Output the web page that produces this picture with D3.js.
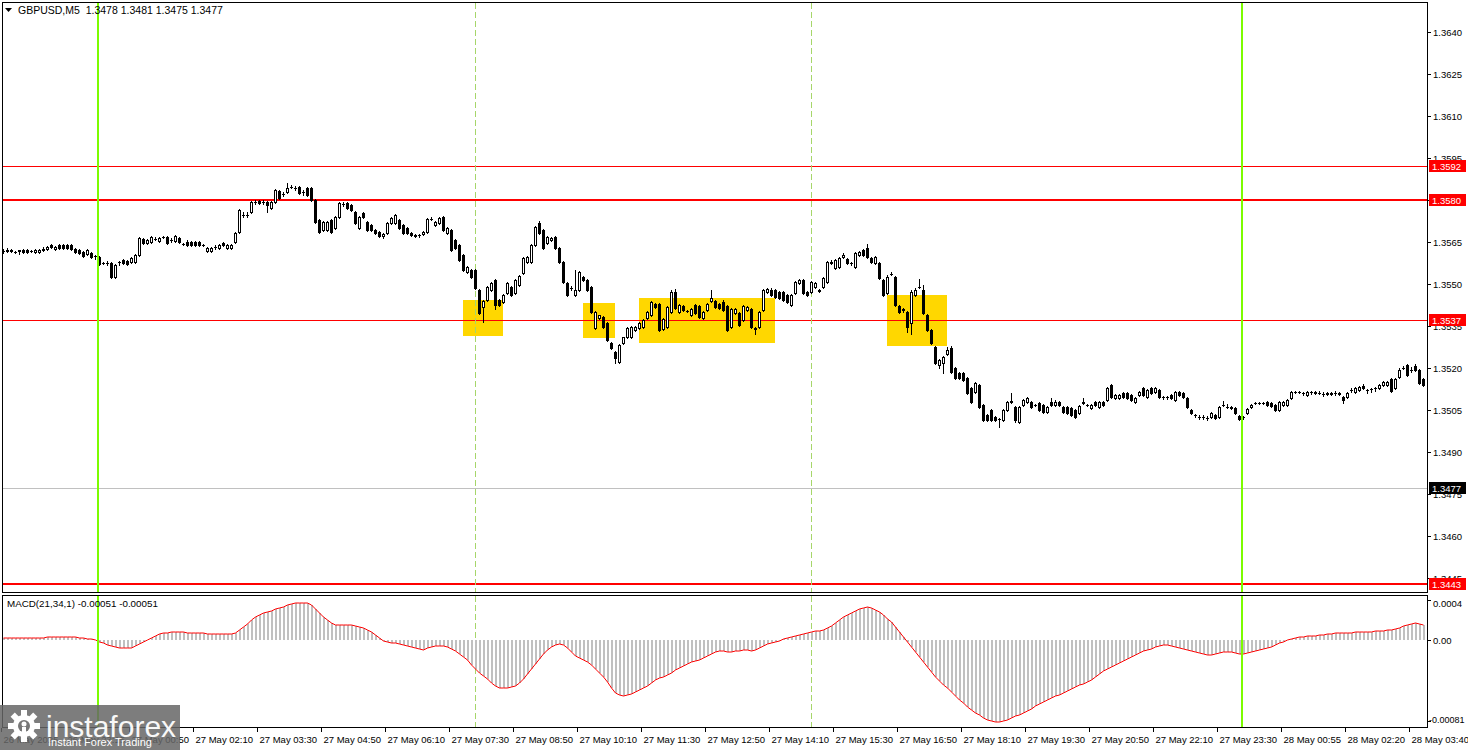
<!DOCTYPE html>
<html><head><meta charset="utf-8">
<script src="https://cdn.jsdelivr.net/npm/d3@7"></script>
<style>
html,body{margin:0;padding:0;background:#fff;}
svg{display:block;font-family:"Liberation Sans",Arial,sans-serif;}
</style></head><body>
<svg id="c" width="1468" height="750"></svg>
<script>
const chartTitle = "GBPUSD,M5  1.3478 1.3481 1.3475 1.3477";
const macdTitle = "MACD(21,34,1) -0.00051 -0.00051";

const open = [
1.35618,1.35618,1.35621,1.35614,1.35618,1.35621,1.35621,1.35618,1.35614,1.35614,
1.35621,1.35625,1.35639,1.35625,1.35639,1.35639,1.35639,1.35639,1.35625,1.35621,
1.35614,1.35607,1.35611,1.35600,1.35596,1.35575,1.35575,1.35575,1.35525,1.35579,
1.35586,1.35582,1.35579,1.35579,1.35604,1.35661,1.35646,1.35650,1.35661,1.35654,
1.35668,1.35668,1.35657,1.35654,1.35664,1.35643,1.35650,1.35650,1.35650,1.35650,
1.35639,1.35618,1.35618,1.35632,1.35629,1.35646,1.35629,1.35629,1.35650,1.35686,
1.35746,1.35746,1.35757,1.35793,1.35796,1.35793,1.35793,1.35771,1.35793,1.35832,
1.35821,1.35829,1.35846,1.35843,1.35846,1.35829,1.35843,1.35843,1.35800,1.35729,
1.35693,1.35693,1.35729,1.35700,1.35739,1.35786,1.35789,1.35782,1.35757,1.35700,
1.35754,1.35721,1.35711,1.35693,1.35686,1.35671,1.35682,1.35718,1.35718,1.35729,
1.35711,1.35700,1.35682,1.35675,1.35675,1.35679,1.35686,1.35732,1.35711,1.35718,
1.35739,1.35682,1.35693,1.35657,1.35639,1.35604,1.35543,1.35550,1.35550,1.35479,
1.35418,1.35443,1.35479,1.35514,1.35443,1.35436,1.35468,1.35489,1.35468,1.35496,
1.35539,1.35579,1.35579,1.35639,1.35718,1.35693,1.35646,1.35657,1.35668,1.35629,
1.35579,1.35504,1.35486,1.35461,1.35479,1.35525,1.35514,1.35489,1.35343,1.35379,
1.35382,1.35361,1.35289,1.35257,1.35221,1.35289,1.35311,1.35311,1.35336,1.35343,
1.35346,1.35379,1.35389,1.35429,1.35429,1.35339,1.35346,1.35400,1.35471,1.35400,
1.35421,1.35404,1.35389,1.35425,1.35421,1.35379,1.35407,1.35439,1.35439,1.35429,
1.35436,1.35421,1.35346,1.35396,1.35396,1.35371,1.35407,1.35411,1.35343,1.35346,
1.35407,1.35471,1.35479,1.35479,1.35471,1.35471,1.35461,1.35425,1.35468,1.35504,
1.35514,1.35471,1.35471,1.35489,1.35479,1.35489,1.35507,1.35575,1.35557,1.35561,
1.35596,1.35589,1.35575,1.35561,1.35604,1.35621,1.35629,1.35593,1.35575,1.35575,
1.35514,1.35468,1.35536,1.35525,1.35421,1.35411,1.35400,1.35361,1.35461,1.35489,
1.35479,1.35389,1.35336,1.35275,1.35211,1.35218,1.35250,1.35271,1.35200,1.35182,
1.35182,1.35164,1.35129,1.35114,1.35139,1.35068,1.35032,1.35050,1.35025,1.35018,
1.35014,1.35050,1.35079,1.35061,1.35007,1.35068,1.35079,1.35079,1.35068,1.35075,
1.35068,1.35043,1.35079,1.35068,1.35079,1.35061,1.35061,1.35057,1.35050,1.35039,
1.35075,1.35068,1.35057,1.35079,1.35061,1.35079,1.35086,1.35139,1.35093,1.35093,
1.35111,1.35111,1.35104,1.35079,1.35104,1.35129,1.35096,1.35129,1.35114,1.35121,
1.35096,1.35096,1.35104,1.35086,1.35114,1.35111,1.35093,1.35050,1.35032,1.35025,
1.35025,1.35021,1.35025,1.35032,1.35025,1.35068,1.35061,1.35061,1.35057,1.35029,
1.35025,1.35039,1.35061,1.35075,1.35075,1.35075,1.35079,1.35075,1.35068,1.35050,
1.35068,1.35068,1.35093,1.35114,1.35114,1.35111,1.35104,1.35114,1.35114,1.35111,
1.35107,1.35111,1.35107,1.35111,1.35111,1.35096,1.35096,1.35121,1.35114,1.35121,
1.35136,1.35121,1.35125,1.35129,1.35129,1.35139,1.35139,1.35161,1.35129,1.35168,
1.35200,1.35211,1.35193,1.35207,1.35193,1.35161];

const high = [
1.35625,1.35629,1.35625,1.35618,1.35621,1.35625,1.35625,1.35621,1.35625,1.35625,
1.35632,1.35636,1.35643,1.35636,1.35643,1.35643,1.35643,1.35643,1.35629,1.35625,
1.35618,1.35625,1.35614,1.35604,1.35600,1.35579,1.35582,1.35579,1.35571,1.35582,
1.35589,1.35586,1.35596,1.35607,1.35668,1.35664,1.35661,1.35671,1.35668,1.35668,
1.35671,1.35671,1.35664,1.35675,1.35668,1.35646,1.35657,1.35654,1.35654,1.35654,
1.35643,1.35632,1.35632,1.35639,1.35643,1.35650,1.35643,1.35643,1.35686,1.35768,
1.35757,1.35757,1.35796,1.35800,1.35800,1.35800,1.35796,1.35796,1.35839,1.35836,
1.35829,1.35861,1.35854,1.35850,1.35850,1.35836,1.35846,1.35846,1.35804,1.35732,
1.35725,1.35725,1.35732,1.35743,1.35793,1.35793,1.35793,1.35786,1.35761,1.35743,
1.35757,1.35725,1.35714,1.35696,1.35689,1.35682,1.35721,1.35739,1.35750,1.35732,
1.35714,1.35704,1.35686,1.35679,1.35679,1.35689,1.35736,1.35739,1.35725,1.35739,
1.35743,1.35704,1.35696,1.35661,1.35643,1.35607,1.35564,1.35554,1.35554,1.35482,
1.35443,1.35493,1.35507,1.35518,1.35446,1.35464,1.35507,1.35493,1.35518,1.35532,
1.35596,1.35600,1.35643,1.35707,1.35725,1.35696,1.35671,1.35668,1.35671,1.35632,
1.35582,1.35507,1.35493,1.35550,1.35546,1.35529,1.35518,1.35493,1.35404,1.35389,
1.35386,1.35364,1.35293,1.35261,1.35286,1.35311,1.35346,1.35350,1.35350,1.35364,
1.35375,1.35404,1.35439,1.35432,1.35432,1.35379,1.35421,1.35479,1.35482,1.35429,
1.35425,1.35407,1.35414,1.35429,1.35425,1.35404,1.35432,1.35479,1.35443,1.35432,
1.35443,1.35425,1.35414,1.35414,1.35400,1.35425,1.35421,1.35414,1.35346,1.35404,
1.35482,1.35486,1.35486,1.35482,1.35475,1.35475,1.35464,1.35464,1.35511,1.35518,
1.35518,1.35475,1.35511,1.35507,1.35482,1.35525,1.35582,1.35586,1.35589,1.35596,
1.35611,1.35593,1.35579,1.35614,1.35618,1.35625,1.35643,1.35596,1.35600,1.35579,
1.35518,1.35532,1.35543,1.35529,1.35425,1.35414,1.35404,1.35479,1.35486,1.35518,
1.35496,1.35393,1.35339,1.35279,1.35232,1.35243,1.35275,1.35279,1.35204,1.35186,
1.35186,1.35168,1.35132,1.35150,1.35143,1.35071,1.35036,1.35054,1.35029,1.35021,
1.35054,1.35082,1.35111,1.35064,1.35064,1.35089,1.35096,1.35082,1.35071,1.35079,
1.35071,1.35064,1.35093,1.35086,1.35082,1.35064,1.35064,1.35061,1.35054,1.35068,
1.35093,1.35071,1.35071,1.35082,1.35082,1.35082,1.35132,1.35143,1.35107,1.35107,
1.35114,1.35114,1.35107,1.35096,1.35118,1.35132,1.35125,1.35132,1.35132,1.35125,
1.35100,1.35100,1.35107,1.35118,1.35118,1.35114,1.35096,1.35054,1.35036,1.35032,
1.35032,1.35029,1.35043,1.35036,1.35064,1.35082,1.35071,1.35064,1.35061,1.35032,
1.35029,1.35057,1.35071,1.35079,1.35079,1.35079,1.35082,1.35079,1.35071,1.35082,
1.35082,1.35089,1.35118,1.35118,1.35118,1.35114,1.35118,1.35118,1.35118,1.35118,
1.35114,1.35114,1.35114,1.35118,1.35114,1.35100,1.35114,1.35129,1.35132,1.35136,
1.35143,1.35125,1.35129,1.35132,1.35143,1.35154,1.35154,1.35164,1.35164,1.35200,
1.35207,1.35214,1.35204,1.35214,1.35196,1.35164];

const low = [
1.35611,1.35614,1.35614,1.35611,1.35607,1.35611,1.35611,1.35614,1.35611,1.35611,
1.35618,1.35621,1.35629,1.35621,1.35625,1.35625,1.35625,1.35621,1.35611,1.35607,
1.35596,1.35604,1.35593,1.35589,1.35568,1.35571,1.35568,1.35521,1.35521,1.35568,
1.35571,1.35568,1.35575,1.35575,1.35600,1.35643,1.35643,1.35646,1.35657,1.35650,
1.35664,1.35643,1.35650,1.35650,1.35646,1.35639,1.35636,1.35636,1.35636,1.35636,
1.35636,1.35614,1.35614,1.35625,1.35625,1.35636,1.35625,1.35625,1.35646,1.35682,
1.35739,1.35739,1.35754,1.35786,1.35786,1.35786,1.35757,1.35768,1.35789,1.35804,
1.35814,1.35825,1.35843,1.35836,1.35821,1.35818,1.35814,1.35796,1.35718,1.35682,
1.35689,1.35689,1.35682,1.35696,1.35736,1.35779,1.35768,1.35761,1.35714,1.35696,
1.35736,1.35689,1.35689,1.35679,1.35668,1.35664,1.35679,1.35714,1.35714,1.35696,
1.35679,1.35679,1.35671,1.35668,1.35668,1.35675,1.35682,1.35729,1.35707,1.35714,
1.35689,1.35679,1.35618,1.35625,1.35582,1.35546,1.35539,1.35521,1.35482,1.35393,
1.35364,1.35439,1.35475,1.35411,1.35421,1.35432,1.35464,1.35457,1.35464,1.35493,
1.35536,1.35575,1.35575,1.35636,1.35679,1.35625,1.35643,1.35654,1.35625,1.35575,
1.35504,1.35457,1.35479,1.35457,1.35475,1.35511,1.35475,1.35396,1.35339,1.35375,
1.35343,1.35296,1.35268,1.35218,1.35218,1.35286,1.35307,1.35307,1.35332,1.35339,
1.35343,1.35375,1.35386,1.35414,1.35332,1.35336,1.35343,1.35396,1.35411,1.35396,
1.35404,1.35400,1.35386,1.35393,1.35379,1.35375,1.35404,1.35436,1.35414,1.35411,
1.35404,1.35332,1.35343,1.35393,1.35350,1.35368,1.35404,1.35343,1.35321,1.35343,
1.35404,1.35468,1.35457,1.35450,1.35446,1.35439,1.35432,1.35421,1.35464,1.35500,
1.35464,1.35457,1.35468,1.35486,1.35471,1.35486,1.35504,1.35571,1.35554,1.35557,
1.35593,1.35571,1.35568,1.35557,1.35600,1.35600,1.35593,1.35575,1.35571,1.35518,
1.35457,1.35464,1.35532,1.35421,1.35396,1.35400,1.35329,1.35321,1.35457,1.35486,
1.35393,1.35332,1.35286,1.35214,1.35200,1.35182,1.35246,1.35182,1.35161,1.35161,
1.35154,1.35107,1.35075,1.35111,1.35057,1.35011,1.35011,1.35011,1.35011,1.34989,
1.35011,1.35046,1.35075,1.35007,1.35004,1.35064,1.35075,1.35057,1.35064,1.35046,
1.35039,1.35039,1.35064,1.35064,1.35064,1.35039,1.35036,1.35029,1.35021,1.35036,
1.35071,1.35064,1.35054,1.35064,1.35057,1.35064,1.35082,1.35093,1.35089,1.35089,
1.35093,1.35089,1.35082,1.35075,1.35100,1.35100,1.35093,1.35107,1.35111,1.35093,
1.35089,1.35089,1.35089,1.35082,1.35100,1.35093,1.35057,1.35036,1.35025,1.35018,
1.35018,1.35014,1.35021,1.35018,1.35021,1.35064,1.35057,1.35054,1.35036,1.35014,
1.35018,1.35036,1.35057,1.35071,1.35071,1.35071,1.35064,1.35061,1.35046,1.35046,
1.35064,1.35064,1.35089,1.35111,1.35111,1.35104,1.35100,1.35107,1.35107,1.35107,
1.35100,1.35104,1.35104,1.35104,1.35104,1.35075,1.35093,1.35114,1.35111,1.35118,
1.35125,1.35111,1.35114,1.35118,1.35125,1.35136,1.35136,1.35114,1.35125,1.35164,
1.35196,1.35171,1.35186,1.35189,1.35143,1.35136];

const close = [
1.35618,1.35621,1.35618,1.35614,1.35621,1.35614,1.35614,1.35618,1.35621,1.35621,
1.35625,1.35632,1.35632,1.35632,1.35629,1.35629,1.35629,1.35625,1.35614,1.35611,
1.35600,1.35621,1.35596,1.35600,1.35571,1.35575,1.35575,1.35525,1.35568,1.35579,
1.35575,1.35571,1.35593,1.35604,1.35664,1.35646,1.35657,1.35668,1.35661,1.35664,
1.35668,1.35646,1.35657,1.35671,1.35650,1.35643,1.35639,1.35639,1.35639,1.35639,
1.35639,1.35629,1.35629,1.35632,1.35639,1.35639,1.35639,1.35639,1.35682,1.35764,
1.35746,1.35746,1.35793,1.35793,1.35789,1.35793,1.35782,1.35793,1.35836,1.35807,
1.35821,1.35843,1.35846,1.35843,1.35825,1.35829,1.35818,1.35800,1.35721,1.35686,
1.35721,1.35721,1.35686,1.35739,1.35789,1.35786,1.35771,1.35764,1.35718,1.35739,
1.35739,1.35693,1.35693,1.35682,1.35671,1.35679,1.35718,1.35736,1.35746,1.35700,
1.35682,1.35682,1.35675,1.35671,1.35675,1.35686,1.35732,1.35732,1.35721,1.35736,
1.35693,1.35700,1.35621,1.35629,1.35586,1.35550,1.35561,1.35525,1.35486,1.35396,
1.35439,1.35489,1.35504,1.35425,1.35425,1.35461,1.35504,1.35461,1.35514,1.35529,
1.35593,1.35596,1.35639,1.35704,1.35682,1.35629,1.35668,1.35664,1.35629,1.35579,
1.35507,1.35461,1.35486,1.35479,1.35543,1.35514,1.35479,1.35400,1.35400,1.35389,
1.35346,1.35300,1.35271,1.35236,1.35282,1.35311,1.35343,1.35346,1.35346,1.35361,
1.35371,1.35400,1.35436,1.35418,1.35336,1.35375,1.35418,1.35471,1.35414,1.35425,
1.35407,1.35404,1.35411,1.35396,1.35382,1.35400,1.35429,1.35450,1.35418,1.35414,
1.35407,1.35336,1.35411,1.35411,1.35354,1.35421,1.35418,1.35346,1.35339,1.35400,
1.35479,1.35482,1.35461,1.35454,1.35450,1.35443,1.35436,1.35461,1.35507,1.35514,
1.35468,1.35461,1.35507,1.35504,1.35475,1.35521,1.35579,1.35579,1.35586,1.35593,
1.35604,1.35575,1.35575,1.35611,1.35614,1.35604,1.35596,1.35579,1.35596,1.35521,
1.35461,1.35525,1.35536,1.35425,1.35400,1.35407,1.35346,1.35471,1.35479,1.35489,
1.35396,1.35336,1.35289,1.35218,1.35229,1.35239,1.35264,1.35186,1.35164,1.35164,
1.35157,1.35111,1.35079,1.35146,1.35061,1.35014,1.35014,1.35014,1.35014,1.35018,
1.35050,1.35079,1.35082,1.35014,1.35061,1.35086,1.35093,1.35061,1.35068,1.35050,
1.35043,1.35061,1.35068,1.35079,1.35068,1.35043,1.35039,1.35032,1.35025,1.35064,
1.35079,1.35068,1.35068,1.35068,1.35079,1.35068,1.35129,1.35096,1.35104,1.35104,
1.35096,1.35093,1.35086,1.35093,1.35114,1.35104,1.35121,1.35111,1.35129,1.35096,
1.35096,1.35096,1.35093,1.35114,1.35104,1.35096,1.35061,1.35039,1.35032,1.35025,
1.35025,1.35021,1.35039,1.35021,1.35061,1.35068,1.35061,1.35057,1.35039,1.35018,
1.35025,1.35054,1.35068,1.35075,1.35075,1.35075,1.35068,1.35064,1.35050,1.35079,
1.35079,1.35086,1.35114,1.35114,1.35114,1.35111,1.35114,1.35114,1.35111,1.35111,
1.35107,1.35107,1.35111,1.35111,1.35107,1.35086,1.35111,1.35121,1.35129,1.35132,
1.35129,1.35121,1.35125,1.35129,1.35139,1.35150,1.35150,1.35118,1.35161,1.35193,
1.35200,1.35175,1.35193,1.35193,1.35146,1.35139];

const macd = [
0.00002,0.00002,0.00002,0.00002,0.00002,0.00002,0.00002,0.00002,0.00002,0.00002,
0.00002,0.00003,0.00003,0.00003,0.00003,0.00003,0.00003,0.00003,0.00003,0.00002,
0.00002,0.00001,0.00001,0,-0.00002,-0.00003,-0.00005,-0.00006,-0.00007,-0.00008,
-0.00008,-0.00008,-0.00008,-0.00006,-0.00004,-0.00002,0,0.00002,0.00004,0.00006,
0.00007,0.00007,0.00008,0.00008,0.00008,0.00008,0.00007,0.00007,0.00007,0.00007,
0.00007,0.00006,0.00006,0.00006,0.00006,0.00006,0.00006,0.00006,0.00007,0.00010,
0.00013,0.00016,0.00020,0.00023,0.00025,0.00027,0.00028,0.00029,0.00031,0.00032,
0.00033,0.00035,0.00036,0.00037,0.00037,0.00037,0.00037,0.00035,0.00031,0.00027,
0.00023,0.00020,0.00017,0.00015,0.00015,0.00015,0.00015,0.00015,0.00014,0.00013,
0.00012,0.00010,0.00008,0.00005,0.00002,-0.00001,-0.00002,-0.00003,-0.00003,-0.00004,
-0.00005,-0.00006,-0.00007,-0.00008,-0.00009,-0.00010,-0.00008,-0.00007,-0.00006,-0.00006,
-0.00006,-0.00007,-0.00009,-0.00011,-0.00014,-0.00017,-0.00020,-0.00025,-0.00029,-0.00033,
-0.00036,-0.00039,-0.00043,-0.00046,-0.00048,-0.00048,-0.00048,-0.00047,-0.00046,-0.00043,
-0.00039,-0.00034,-0.00029,-0.00024,-0.00019,-0.00014,-0.00010,-0.00007,-0.00005,-0.00004,
-0.00005,-0.00008,-0.00012,-0.00016,-0.00018,-0.00020,-0.00022,-0.00025,-0.00029,-0.00033,
-0.00037,-0.00042,-0.00048,-0.00053,-0.00055,-0.00056,-0.00055,-0.00054,-0.00052,-0.00050,
-0.00048,-0.00046,-0.00043,-0.00040,-0.00038,-0.00037,-0.00035,-0.00033,-0.00030,-0.00028,
-0.00026,-0.00024,-0.00022,-0.00021,-0.00020,-0.00018,-0.00016,-0.00014,-0.00012,-0.00011,
-0.00011,-0.00012,-0.00012,-0.00011,-0.00011,-0.00010,-0.00010,-0.00011,-0.00010,-0.00008,
-0.00006,-0.00004,-0.00003,-0.00002,-0.00001,0.00001,0.00002,0.00003,0.00004,0.00005,
0.00006,0.00007,0.00008,0.00009,0.00009,0.00010,0.00012,0.00014,0.00017,0.00020,
0.00023,0.00025,0.00027,0.00029,0.00031,0.00032,0.00033,0.00032,0.00030,0.00028,
0.00025,0.00021,0.00018,0.00013,0.00008,0.00003,-0.00002,-0.00007,-0.00012,-0.00017,
-0.00022,-0.00027,-0.00032,-0.00037,-0.00041,-0.00045,-0.00048,-0.00052,-0.00056,-0.00060,
-0.00063,-0.00067,-0.00070,-0.00073,-0.00075,-0.00078,-0.00080,-0.00081,-0.00082,-0.00082,
-0.00081,-0.00080,-0.00078,-0.00076,-0.00075,-0.00073,-0.00071,-0.00069,-0.00066,-0.00064,
-0.00062,-0.00060,-0.00058,-0.00056,-0.00055,-0.00053,-0.00051,-0.00049,-0.00047,-0.00045,
-0.00044,-0.00042,-0.00040,-0.00037,-0.00034,-0.00031,-0.00029,-0.00027,-0.00025,-0.00023,
-0.00021,-0.00019,-0.00017,-0.00015,-0.00013,-0.00011,-0.00010,-0.00009,-0.00007,-0.00006,
-0.00005,-0.00005,-0.00006,-0.00007,-0.00008,-0.00009,-0.00010,-0.00011,-0.00012,-0.00013,
-0.00014,-0.00015,-0.00015,-0.00014,-0.00013,-0.00012,-0.00012,-0.00012,-0.00013,-0.00014,
-0.00014,-0.00013,-0.00012,-0.00011,-0.00010,-0.00009,-0.00008,-0.00007,-0.00005,-0.00003,
-0.00002,0,0.00001,0.00002,0.00003,0.00003,0.00004,0.00004,0.00004,0.00005,
0.00005,0.00006,0.00006,0.00007,0.00007,0.00007,0.00007,0.00007,0.00008,0.00008,
0.00008,0.00008,0.00008,0.00009,0.00009,0.00009,0.00010,0.00010,0.00011,0.00012,
0.00014,0.00015,0.00016,0.00017,0.00016,0.00015];

const priceTicks = [1.3640,1.3625,1.3610,1.3595,1.3580,1.3565,1.3550,1.3535,1.3520,1.3505,1.3490,1.3475,1.3460,1.3445];
const macdTicks = [0.0004, 0, -0.00081];
const macdTickLabels = ["0.0004", "0.00", "-0.00081"];
const timeLabelBars = [0,16,32,48,64,80,96,112,128,144,160,176,192,208,224,240,256,272,288,304,320,336,352];
const timeLabels = ["26 May 2025","26 May 23:15","27 May 00:50","27 May 02:10","27 May 03:30","27 May 04:50","27 May 06:10","27 May 07:30","27 May 08:50","27 May 10:10","27 May 11:30","27 May 12:50","27 May 14:10","27 May 15:30","27 May 16:50","27 May 18:10","27 May 19:30","27 May 20:50","27 May 22:10","27 May 23:30","28 May 00:55","28 May 02:20","28 May 03:40"];
const levelPrices = [1.3592, 1.3580, 1.3537, 1.3443];
const levelBold = [false, true, false, true];
const bidPrice = 1.3477;
const greenLineBars = [24, 310];
const dashedLineBars = [118, 202];
const zoneStartBar = [115, 145, 159, 221];
const zoneEndBar = [125, 153, 193, 236];
const zoneTop = [1.35443, 1.35432, 1.35450, 1.35461];
const zoneBottom = [1.35314, 1.35307, 1.35289, 1.35279];

const svg = d3.select("#c");
const W = 1468, H = 750;
const L = 3, R = 1427, mainTop = 3, mainBot = 593, macdTop = 596, macdBot = 728;
const n = close.length;
const FONT = '"Liberation Sans",Arial,sans-serif';

const x = d3.scaleLinear().domain([0, 355]).range([3, 1423]);
const y = d3.scaleLinear().domain([1.3445, 1.3640]).range([578, 32]);
const ym = d3.scaleLinear().domain([-0.00081, 0]).range([721, 640]);

svg.append("rect").attr("width", W).attr("height", H).attr("fill", "#fff");

svg.append("defs").call(d => {
  d.append("clipPath").attr("id", "cm").append("rect").attr("x", L).attr("y", mainTop).attr("width", R - L).attr("height", mainBot - mainTop);
  d.append("clipPath").attr("id", "cd").append("rect").attr("x", L).attr("y", macdTop).attr("width", R - L).attr("height", macdBot - macdTop);
});

const gMain = svg.append("g").attr("clip-path", "url(#cm)").attr("shape-rendering", "crispEdges");
const gMacd = svg.append("g").attr("clip-path", "url(#cd)").attr("shape-rendering", "crispEdges");

// zones
gMain.selectAll("rect.zone").data(zoneStartBar).join("rect").attr("class", "zone")
  .attr("x", (d) => x(d))
  .attr("width", (d, i) => x(zoneEndBar[i]) - x(d))
  .attr("y", (d, i) => y(zoneTop[i]))
  .attr("height", (d, i) => y(zoneBottom[i]) - y(zoneTop[i]))
  .attr("fill", "#FFD700");

// bid line
gMain.append("line").attr("x1", L).attr("x2", R).attr("y1", Math.round(y(bidPrice)) + 0.5).attr("y2", Math.round(y(bidPrice)) + 0.5)
  .attr("stroke", "#c0c0c0").attr("stroke-width", 1);

// red levels
levelPrices.forEach((p, i) => {
  const yy = Math.round(y(p));
  gMain.append("line").attr("x1", L).attr("x2", R)
    .attr("y1", levelBold[i] ? yy : yy + 0.5).attr("y2", levelBold[i] ? yy : yy + 0.5)
    .attr("stroke", "#ff0000").attr("stroke-width", levelBold[i] ? 2 : 1);
});

// dashed vertical lines (both panels)
function vlines(g, top, bot) {
  dashedLineBars.forEach(b => {
    g.append("line").attr("x1", x(b) + 0.5).attr("x2", x(b) + 0.5).attr("y1", top).attr("y2", bot)
      .attr("stroke", "#a6d66a").attr("stroke-width", 1).attr("stroke-dasharray", "6,3");
  });
}
vlines(gMain, mainTop, mainBot);
vlines(gMacd, macdTop, macdBot);

// candles
const candles = gMain.append("g");
for (let i = 0; i < n; i++) {
  const cx = Math.round(x(i));
  const o = open[i], c = close[i];
  const yo = Math.round(y(o)), yc = Math.round(y(c));
  const yh = Math.round(y(high[i])), yl = Math.round(y(low[i]));
  candles.append("line").attr("x1", cx + 0.5).attr("x2", cx + 0.5).attr("y1", yh).attr("y2", yl + 1)
    .attr("stroke", "#000").attr("stroke-width", 1);
  const top = Math.min(yo, yc), bot = Math.max(yo, yc);
  if (bot - top < 1) {
    candles.append("line").attr("x1", cx - 1).attr("x2", cx + 2).attr("y1", top + 0.5).attr("y2", top + 0.5)
      .attr("stroke", "#000").attr("stroke-width", 1);
  } else {
    candles.append("rect").attr("x", cx - 0.5).attr("y", top + 0.5).attr("width", 2).attr("height", bot - top)
      .attr("fill", c >= o ? "#fff" : "#000").attr("stroke", "#000").attr("stroke-width", 1);
  }
}

function greens(g, top, bot) {
  greenLineBars.forEach(b => {
    g.append("line").attr("x1", x(b) - 1).attr("x2", x(b) - 1).attr("y1", top).attr("y2", bot)
      .attr("stroke", "#7CFC00").attr("stroke-width", 2);
  });
}

// MACD histogram
gMacd.selectAll("rect.h").data(macd).join("rect").attr("class", "h")
  .attr("x", (d, i) => Math.round(x(i)))
  .attr("width", 2)
  .attr("y", d => Math.min(ym(d), ym(0)))
  .attr("height", d => Math.abs(ym(d) - ym(0)))
  .attr("fill", "#c0c0c0");

gMacd.append("path").datum(macd)
  .attr("d", d3.line().x((d, i) => Math.round(x(i)) + 0.5).y(d => ym(d)))
  .attr("fill", "none").attr("stroke", "#ff0000").attr("stroke-width", 1).attr("shape-rendering", "auto");

greens(gMain, mainTop, mainBot);
greens(gMacd, macdTop, macdBot);

// frames
svg.append("rect").attr("x", L - 0.5).attr("y", mainTop - 0.5).attr("width", R - L + 1).attr("height", mainBot - mainTop)
  .attr("fill", "none").attr("stroke", "#000").attr("shape-rendering", "crispEdges");
svg.append("rect").attr("x", L - 0.5).attr("y", macdTop - 0.5).attr("width", R - L + 1).attr("height", macdBot - macdTop)
  .attr("fill", "none").attr("stroke", "#000").attr("shape-rendering", "crispEdges");

// price axis
const yAxis = d3.axisRight(y).tickValues(priceTicks).tickFormat(d3.format(".4f")).tickSize(4).tickPadding(2);
const gy = svg.append("g").attr("transform", `translate(${R},0)`).call(yAxis);
gy.select(".domain").remove();
gy.selectAll("text").attr("font-size", "9.5px").attr("font-family", FONT).attr("fill", "#000");
gy.selectAll("line").attr("stroke", "#000");

// macd axis
const mAxis = d3.axisRight(ym).tickValues(macdTicks).tickFormat((d, i) => macdTickLabels[i]).tickSize(4).tickPadding(2);
const gm = svg.append("g").attr("transform", `translate(${R},0)`).call(mAxis);
gm.select(".domain").remove();
gm.selectAll("text").attr("font-size", "9.5px").attr("font-family", FONT).attr("fill", "#000");
gm.selectAll(".tick").filter((d, i) => i === 0).select("text").attr("dy", "0.7em");
gm.selectAll(".tick").filter((d, i) => i === 2).select("text").attr("dy", "0.2em").attr("x", 2).attr("font-size", "9px");

// level labels
levelPrices.forEach((p, i) => {
  const yy = Math.round(y(p));
  svg.append("rect").attr("x", R + 2).attr("y", yy - 6).attr("width", 37).attr("height", 12).attr("fill", "#ff0000");
  svg.append("text").attr("x", R + 5).attr("y", yy + 4).attr("font-size", "9.5px").attr("font-family", FONT).attr("fill", "#fff").text(d3.format(".4f")(p));
});
{
  const yy = Math.round(y(bidPrice));
  svg.append("rect").attr("x", R + 2).attr("y", yy - 6).attr("width", 37).attr("height", 12).attr("fill", "#000");
  svg.append("text").attr("x", R + 5).attr("y", yy + 4).attr("font-size", "9.5px").attr("font-family", FONT).attr("fill", "#fff").text(d3.format(".4f")(bidPrice));
}

// time axis
const xAxis = d3.axisBottom(x).tickValues(timeLabelBars).tickFormat((d, i) => timeLabels[i]).tickSize(4);
const gx = svg.append("g").attr("transform", `translate(-2,${macdBot})`).call(xAxis);
gx.select(".domain").remove();
gx.selectAll("line").attr("stroke", "#000");
gx.selectAll("text").attr("text-anchor", "start").attr("x", 2).attr("y", 15).attr("dy", null)
  .attr("font-size", "9.5px").attr("font-family", FONT).attr("fill", "#000");

// titles
svg.append("path").attr("d", "M5,8 L12,8 L8.5,12 Z").attr("fill", "#000");
svg.append("text").attr("x", 18).attr("y", 14).attr("font-size", "10.5px").attr("font-family", FONT).attr("fill", "#000")
  .style("white-space", "pre").text(chartTitle);
svg.append("text").attr("x", 7).attr("y", 607).attr("font-size", "9.8px").attr("font-family", FONT).attr("fill", "#000").text(macdTitle);

// watermark
const wm = svg.append("g");
wm.append("rect").attr("x", 0).attr("y", 705).attr("width", 180).attr("height", 45).attr("fill", "#666").attr("opacity", 0.85);
const gear = wm.append("g").attr("transform", "translate(24,726)");
for (let a = 0; a < 8; a++) {
  gear.append("rect").attr("x", -3).attr("y", -16).attr("width", 6).attr("height", 8).attr("fill", "#fff")
    .attr("transform", `rotate(${a * 45})`);
}
gear.append("circle").attr("r", 11).attr("fill", "#fff");
gear.append("circle").attr("r", 6).attr("fill", "#777");
gear.append("circle").attr("cy", -2).attr("r", 2.5).attr("fill", "#fff");
gear.append("rect").attr("x", -2).attr("y", 1).attr("width", 4).attr("height", 8).attr("fill", "#fff");
wm.append("text").attr("x", 46).attr("y", 737).attr("font-size", "30px").attr("font-family", FONT).attr("fill", "#fff").attr("opacity", 0.95).text("instaforex");
wm.append("text").attr("x", 48).attr("y", 746).attr("font-size", "11px").attr("font-family", FONT).attr("fill", "#fff").text("Instant Forex Trading");
</script>
</body></html>
